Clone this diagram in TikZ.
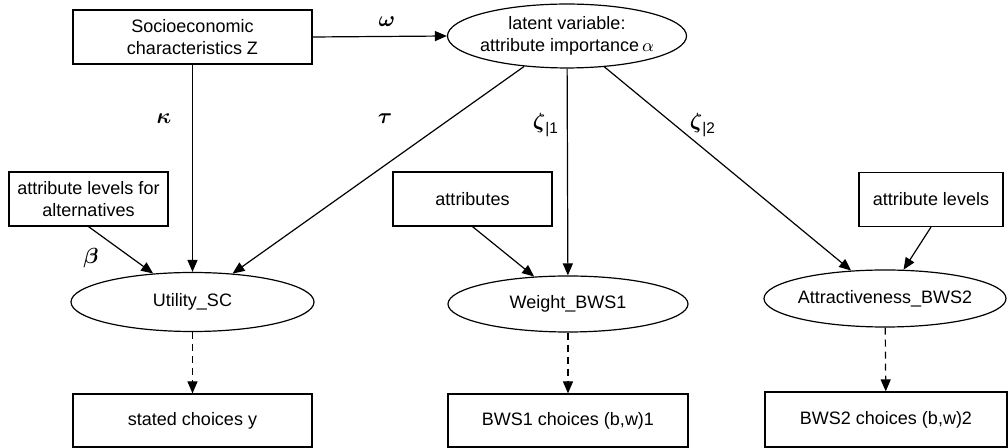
\documentclass[tikz,border=0pt]{standalone}
\usepackage{amsmath}
\usepackage{fontspec}
\setmainfont{Liberation Sans}
\usepackage{tikz}
\usetikzlibrary{shapes.geometric, arrows.meta}

\newcommand{\zw}[1]{\makebox[0pt]{#1}}
\tikzset{
	obsbox/.style={draw, rectangle, line width=0.6pt, inner sep=0pt, align=center, minimum height=27pt},
	latvar/.style={draw, ellipse, line width=0.6pt, inner sep=0pt},
	link/.style={->, >={Triangle[length=6pt,width=5pt]}, line width=0.6pt},
	meas/.style={link, dash pattern=on 3.5pt off 2.5pt},
	coef/.style={font=\fontsize{11}{13}\selectfont}
}

\begin{document}
\begin{tikzpicture}[x=0.5pt, y=-0.5pt, every node/.style={font=\fontsize{9}{11.3}\selectfont}]
	\useasboundingbox (0,0) rectangle (1008,448);

	%boxes
	\node[obsbox, minimum width=119.5pt] (socio)   at (192.5,37)  {Socioeconomic\\characteristics Z};
	\node[obsbox, minimum width=79.5pt]  (altlev)  at (88.5,199)  {attribute levels for\\alternatives};
	\node[obsbox, minimum width=79.5pt]  (attrs)   at (472.5,199) {attributes};
	\node[obsbox, minimum width=72pt]    (attrlev) at (931,199.5) {attribute levels};
	\node[obsbox, minimum width=119.5pt, minimum height=26.5pt] (stated) at (192.5,420.5) {stated choices y};
	\node[obsbox, minimum width=120pt, minimum height=26.5pt]   (bwsone) at (568,420.5)   {BWS1 choices (b,w)1};
	\node[obsbox, minimum width=121pt, minimum height=27.5pt]   (bwstwo) at (886,419.5)   {BWS2 choices (b,w)2};

	%ellipses
	\node[latvar, minimum width=119.5pt, minimum height=31pt] (alpha) at (567,36)
		{\zw{\begin{tabular}{@{}c@{}}latent variable:\\attribute importance\,$\alpha$\end{tabular}}};
	\node[latvar, minimum width=121.5pt, minimum height=29.5pt] (utility) at (192.5,302) {\zw{Utility\_SC}};
	\node[latvar, minimum width=120pt, minimum height=28pt]     (weight)  at (568,304)   {\zw{Weight\_BWS1}};
	\node[latvar, minimum width=121pt, minimum height=28.5pt]   (attract) at (885,298.5) {\zw{Attractiveness\_BWS2}};

	%arrows
	\draw[link] (socio.east) -- (alpha.west);
	\draw[link] (socio) -- (utility);
	\draw[link] (alpha) -- (utility);
	\draw[link] (alpha) -- (weight);
	\draw[link] (alpha) -- (attract);
	\draw[link] (altlev.south) -- (utility);
	\draw[link] (attrs.south) -- (weight);
	\draw[link] (attrlev.south) -- (attract);
	\draw[meas] (utility) -- (stated);
	\draw[meas] (weight) -- (bwsone);
	\draw[meas] (attract) -- (bwstwo);

	%coefficients
	\node[coef] (omega) at (387,22)  {$\boldsymbol{\omega}$};
	\node[coef] (kappa) at (164,119) {$\boldsymbol{\kappa}$};
	\node[coef] (tau)   at (385,119) {$\boldsymbol{\tau}$};
	\node[coef] (beta)  at (91,258)  {$\boldsymbol{\beta}$};
	\node[coef] (zetaone) at (546,125) {$\boldsymbol{\zeta}_{\text{|1}}$};
	\node[coef] (zetatwo) at (703,125) {$\boldsymbol{\zeta}_{\text{|2}}$};
\end{tikzpicture}
\end{document}
